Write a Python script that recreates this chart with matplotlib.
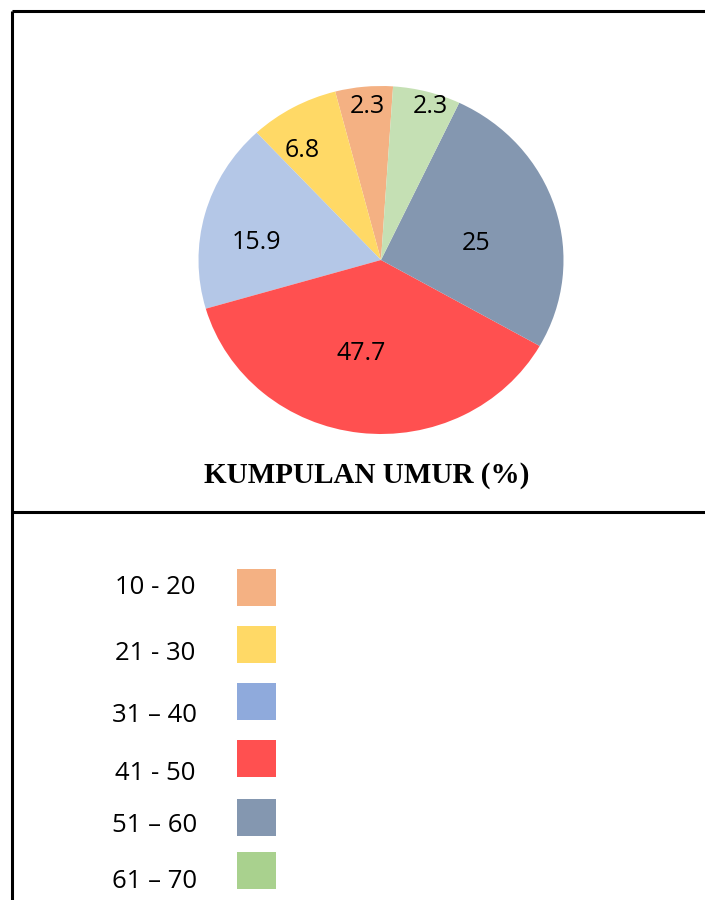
import matplotlib.pyplot as plt
from matplotlib.patches import Rectangle
import numpy as np

# age groups, printed percentages and the slice sizes as drawn in the picture
groups = ['10 - 20', '21 - 30', '31 \u2013 40', '41 - 50', '51 \u2013 60', '61 \u2013 70']
printed = ['2.3', '6.8', '15.9', '47.7', '25', '2.3']
drawn = [5.1, 7.9, 17.6, 37.3, 26.2, 6.0]

pie_colors = ['#F4B183', '#FFD966', '#B4C7E7', '#FF5050', '#8497B0', '#C5E0B4']
key_colors = ['#F4B183', '#FFD966', '#8FAADC', '#FF5050', '#8497B0', '#A9D18E']

W, H = 705, 900
fig = plt.figure(figsize=(W / 100, H / 100), dpi=100)

# overlay in pixel coordinates for frame, title and key
bg = fig.add_axes([0, 0, 1, 1])
bg.set_xlim(0, W)
bg.set_ylim(H, 0)
bg.axis('off')

# pie, slightly wider than tall as in the original
cx, cy, rx, ry = 381, 260, 182.5, 174
ax = fig.add_axes([(cx - rx) / W, (H - cy - ry) / H, 2 * rx / W, 2 * ry / H])
wedges, _ = ax.pie(drawn, colors=pie_colors, startangle=86.2, counterclock=True,
                   radius=1, wedgeprops={'linewidth': 0})
ax.set_aspect('auto')
ax.set_xlim(-1, 1)
ax.set_ylim(-1, 1)
ax.axis('off')

# best-fit style label placement: radius and angle shift from wedge middle
label_r = [0.905, 0.776, 0.69, 0.529, 0.533, 0.941]
label_da = [-0.5, 5.2, 5.4, -5.2, -5.1, -2.0]
for w, txt, r, da in zip(wedges, printed, label_r, label_da):
    a = np.deg2rad((w.theta1 + w.theta2) / 2 + da)
    ax.text(r * np.cos(a), r * np.sin(a), txt, ha='center', va='center_baseline',
            fontsize=18, family='Open Sans', color='black')

bg.text(367, 472, 'KUMPULAN UMUR (%)', ha='center', va='center_baseline',
        fontsize=21, fontweight='bold', family='Liberation Serif')

# frame lines
lw = 2.2
bg.plot([12, 12], [11, H], color='black', lw=lw, solid_capstyle='butt')
bg.plot([12, W], [11, 11], color='black', lw=lw, solid_capstyle='butt')
bg.plot([12, W], [512, 512], color='black', lw=lw, solid_capstyle='butt')

# key
text_y = [584, 650, 712, 770, 822, 878]
box_y = [569, 626, 683, 740, 799, 852]
for name, col, ty, by in zip(groups, key_colors, text_y, box_y):
    bg.text(155, ty, name, ha='center', va='center_baseline', fontsize=18.5,
            family='Open Sans', color='black')
    bg.add_patch(Rectangle((237, by), 39, 37, facecolor=col, edgecolor='none'))

fig.savefig('out.png', dpi=100)
